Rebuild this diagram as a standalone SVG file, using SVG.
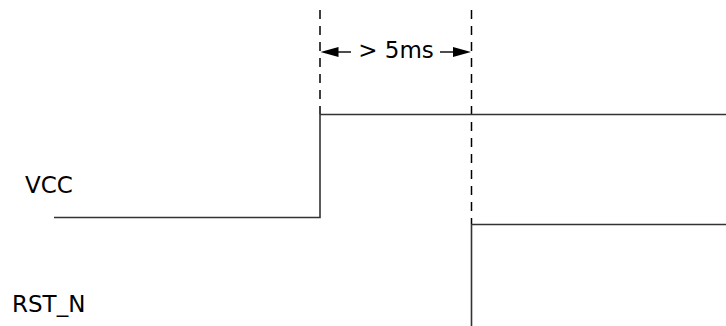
<svg xmlns="http://www.w3.org/2000/svg" width="726" height="326" viewBox="0 0 726 326">
<defs>
<style>
.lbl{font-family:"DejaVu Sans","Verdana",sans-serif;font-size:23px;fill:#000}
.sig{fill:none;stroke:#333;stroke-width:1.6}
.dash{fill:none;stroke:#000;stroke-width:1.5;stroke-dasharray:9 7}
.dim{fill:none;stroke:#000;stroke-width:1.4}
.head{fill:#000;stroke:none}
</style>
<path id="ah" d="M0,0 L-18,-5 L-18,5 Z"/>
</defs>
<rect width="726" height="326" fill="#fff"/>
<g id="connectors">
<line class="dash" x1="320" y1="10" x2="320" y2="114"/>
<line class="dash" x1="471.5" y1="10" x2="471.5" y2="224"/>
<line class="dim" x1="351" y1="52" x2="330" y2="52"/>
<line class="dim" x1="440" y1="52" x2="461" y2="52"/>
<use href="#ah" class="head" transform="translate(320.5,52) rotate(180)"/>
<use href="#ah" class="head" transform="translate(471,52)"/>
</g>
<g id="vcc">
<polyline class="sig" points="54,217.5 320,217.5 320,114.5 726,114.5"/>
<text class="lbl" x="25" y="192.5">VCC</text>
</g>
<g id="rst_n">
<polyline class="sig" points="471.5,326 471.5,224.5 726,224.5"/>
<text class="lbl" x="12" y="312">RST_N</text>
</g>
<g id="timing">
<text class="lbl" x="396" y="58" text-anchor="middle">&gt; 5ms</text>
</g>
</svg>
